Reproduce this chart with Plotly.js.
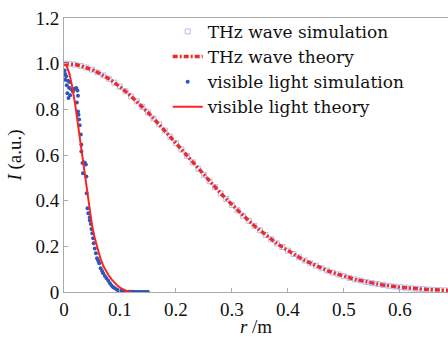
<!DOCTYPE html>
<html>
<head>
<meta charset="utf-8">
<script src="https://cdn.plot.ly/plotly-3.0.1.min.js"></script>
<style>html,body{margin:0;padding:0;background:#fff;}#chart{width:448px;height:337px;}</style>
</head>
<body>
<div id="chart"></div>
<script>
// THz wave (r in m, normalised intensity)
const thzR = [0,0.01,0.02,0.03,0.04,0.05,0.06,0.07,0.08,0.09,0.10,0.11,0.12,0.13,0.14,0.15,0.16,0.17,0.18,0.19,0.20,0.21,0.22,0.23,0.24,0.25,0.26,0.27,0.28,0.29,0.30,0.31,0.32,0.33,0.34,0.35,0.36,0.37,0.38,0.39,0.40,0.41,0.42,0.43,0.44,0.45,0.46,0.47,0.48,0.49,0.50,0.51,0.52,0.53,0.54,0.55,0.56,0.57,0.58,0.59,0.60,0.61,0.62,0.63,0.64,0.65,0.66,0.67,0.68,0.69,0.70];
const thzTheory = [1,0.999,0.996,0.990,0.983,0.974,0.962,0.949,0.934,0.917,0.899,0.879,0.857,0.835,0.811,0.786,0.760,0.734,0.707,0.680,0.652,0.624,0.596,0.568,0.540,0.513,0.485,0.459,0.432,0.407,0.382,0.358,0.334,0.312,0.290,0.270,0.250,0.231,0.213,0.197,0.181,0.166,0.152,0.138,0.126,0.115,0.104,0.094,0.085,0.077,0.069,0.062,0.055,0.050,0.044,0.039,0.035,0.031,0.027,0.024,0.021,0.019,0.016,0.014,0.0125,0.011,0.0095,0.008,0.007,0.006,0.005];
const thzSim = [1,0.999,0.996,0.990,0.983,0.974,0.962,0.949,0.934,0.917,0.899,0.879,0.857,0.835,0.811,0.786,0.760,0.734,0.707,0.680,0.652,0.624,0.596,0.568,0.540,0.513,0.485,0.459,0.432,0.407,0.382,0.358,0.334,0.312,0.290,0.270,0.250,0.231,0.213,0.197,0.181,0.166,0.152,0.138,0.126,0.115,0.104,0.094,0.085,0.077,0.069,0.062,0.055,0.050,0.044,0.039,0.035,0.031,0.027,0.024,0.021,0.019,0.016,0.014,0.0125,0.011,0.0095,0.008,0.007,0.006,0.005];

// Visible light
const visTheoryR = [0,0.005,0.01,0.015,0.02,0.025,0.03,0.035,0.04,0.045,0.05,0.055,0.06,0.065,0.07,0.075,0.08,0.085,0.09,0.095,0.10,0.105,0.11,0.115,0.12];
const visTheory = [1,0.988,0.952,0.895,0.821,0.735,0.642,0.547,0.455,0.369,0.292,0.235,0.185,0.148,0.115,0.09,0.072,0.055,0.041,0.029,0.019,0.011,0.006,0.002,0.0];
const visSimR = [0.001,0.002,0.004,0.002,0.007,0.010,0.005,0.009,0.013,0.019,0.022,0.024,0.016,0.006,0.011,0.025,0.008,0.023,
  0.025,0.026,0.027,0.028,0.030,0.031,0.031,0.033,0.037,0.039,0.034,0.040,
  0.0405,0.042,0.0434,0.046,0.046,0.048,0.049,0.0506,0.052,
  0.053,0.055,0.057,0.059,0.061,0.063,0.0655,0.068,0.070,0.073,0.076,0.079,0.082,0.085,0.088,0.091,0.094,0.097,0.100,0.103,0.106,0.109,0.112,0.115,0.118,0.121,0.124,0.127,0.130,0.133,0.136,0.139,0.142,0.145,0.148,0.150];
const visSim = [0.97,0.955,0.945,0.93,0.925,0.92,0.905,0.895,0.888,0.89,0.893,0.882,0.878,0.87,0.862,0.86,0.85,0.83,
  0.79,0.776,0.755,0.73,0.69,0.645,0.615,0.565,0.567,0.558,0.52,0.506,
  0.433,0.367,0.345,0.327,0.313,0.298,0.276,0.257,0.235,
  0.213,0.19,0.17,0.148,0.137,0.126,0.104,0.092,0.082,0.07,0.06,0.049,0.038,0.028,0.021,0.016,0.011,0.008,0.006,0.004,0.003,0.002,0.0015,0.001,0.001,0.0008,0.0006,0.0005,0.0004,0.0003,0.0002,0.0002,0.0001,0.0001,0.0001,0.0];

const seriesNames = ['THz wave simulation','THz wave theory','visible light simulation','visible light theory'];
const xTickVals = [0,0.1,0.2,0.3,0.4,0.5,0.6];
const xTickText = ['0','0.1','0.2','0.3','0.4','0.5','0.6'];
const yTickVals = [0,0.2,0.4,0.6,0.8,1.0,1.2];
const yTickText = ['0','0.2','0.4','0.6','0.8','1.0','1.2'];

const traces = [
  {x: thzR, y: thzSim, name: seriesNames[0], type: 'scatter', mode: 'markers',
   marker: {symbol: 'square-open', size: 5, color: '#b4bcec', line: {width: 1}}},
  {x: thzR, y: thzTheory, name: seriesNames[1], type: 'scatter', mode: 'lines',
   line: {color: '#ee2a2a', width: 3.5, dash: '5px,2px,2px,2px'}},
  {x: visSimR, y: visSim, name: seriesNames[2], type: 'scatter', mode: 'markers',
   marker: {symbol: 'circle', size: 4, color: '#2f56b8'}},
  {x: visTheoryR, y: visTheory, name: seriesNames[3], type: 'scatter', mode: 'lines',
   line: {color: '#ff2222', width: 2}}
];

const serif = 'Liberation Serif';
const legendFont = 'DejaVu Serif';
const layout = {
  width: 448, height: 337,
  margin: {l: 64, r: 0, t: 18, b: 45},
  paper_bgcolor: '#fff', plot_bgcolor: '#fff',
  font: {family: serif, color: '#111'},
  showlegend: true,
  legend: {x: 0.27, y: 1.015, xanchor: 'left', yanchor: 'top', bgcolor: 'rgba(0,0,0,0)',
    font: {family: legendFont, size: 17, color: '#111'}, tracegroupgap: 0},
  xaxis: {range: [0, 0.686], showgrid: false, zeroline: false, showline: true, linecolor: '#aaa', linewidth: 1,
    mirror: true, ticks: 'inside', ticklen: 4, tickcolor: '#aaa',
    tickvals: xTickVals, ticktext: xTickText, tickfont: {family: serif, size: 19, color: '#111'},
    title: {text: '<i>r</i> /m', font: {family: serif, size: 19, color: '#111'}, standoff: 0}},
  yaxis: {range: [0, 1.2], showgrid: false, zeroline: false, showline: true, linecolor: '#aaa', linewidth: 1,
    ticks: 'inside', ticklen: 4, tickcolor: '#aaa',
    tickvals: yTickVals, ticktext: yTickText, tickfont: {family: serif, size: 19, color: '#111'},
    title: {text: '<i>I</i> (a.u.)', font: {family: serif, size: 19, color: '#111'}, standoff: 8}}
};

Plotly.newPlot('chart', traces, layout, {displayModeBar: false, staticPlot: true});
</script>
</body>
</html>
